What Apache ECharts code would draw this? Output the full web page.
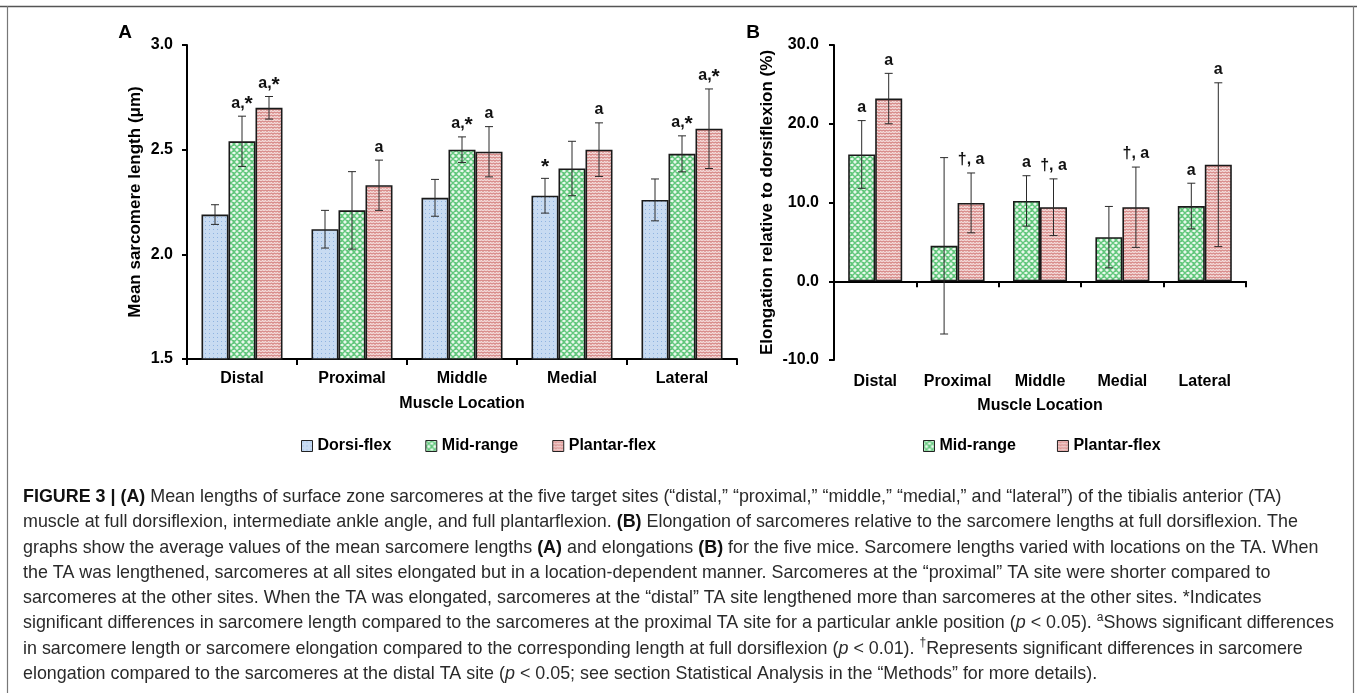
<!DOCTYPE html>
<html>
<head>
<meta charset="utf-8">
<script src="https://cdn.jsdelivr.net/npm/echarts@6/dist/echarts.min.js"></script>
<style>
html,body{margin:0;padding:0;background:#fff;}
#c{width:1357px;height:693px;}
</style>
</head>
<body>
<div id="c"></div>
<script>
// ---------------- DATA ----------------
const categories = ['Distal', 'Proximal', 'Middle', 'Medial', 'Lateral'];

// Panel A: mean sarcomere length (µm)
const yTicksA = [1.5, 2.0, 2.5, 3.0];
const dorsiA      = [2.19, 2.12, 2.27, 2.28, 2.26];
const dorsiAErr   = [0.047, 0.09, 0.088, 0.083, 0.10];
const midA        = [2.54, 2.21, 2.50, 2.41, 2.48];
const midAErr     = [0.12, 0.185, 0.061, 0.13, 0.086];
const plantarA    = [2.70, 2.33, 2.49, 2.50, 2.60];
const plantarAErr = [0.054, 0.12, 0.12, 0.128, 0.19];
const dorsiALabels   = ['', '', '', '*', ''];
const midALabels     = ['a,*', '', 'a,*', '', 'a,*'];
const plantarALabels = ['a,*', 'a', 'a', 'a', 'a,*'];

// Panel B: elongation relative to dorsiflexion (%)
const yTicksB = [-10, 0, 10, 20, 30];
const midB        = [16.1, 4.5, 10.2, 5.6, 9.55];
const midBErr     = [4.3, 11.2, 3.2, 3.9, 2.9];
const plantarB    = [23.2, 9.95, 9.4, 9.4, 14.8];
const plantarBErr = [3.2, 3.8, 3.6, 5.1, 10.4];
const midBLabels     = ['a', '', 'a', '', 'a'];
const plantarBLabels = ['a', '†, a', '†, a', '†, a', 'a'];

const seriesNamesA = ['Dorsi-flex', 'Mid-range', 'Plantar-flex'];
const seriesNamesB = ['Mid-range', 'Plantar-flex'];

const captionLines = [
  '{b|FIGURE 3 | (A)}{n| Mean lengths of surface zone sarcomeres at the five target sites (“distal,” “proximal,” “middle,” “medial,” and “lateral”) of the tibialis anterior (TA)}',
  '{n|muscle at full dorsiflexion, intermediate ankle angle, and full plantarflexion. }{b|(B)}{n| Elongation of sarcomeres relative to the sarcomere lengths at full dorsiflexion. The}',
  '{n|graphs show the average values of the mean sarcomere lengths }{b|(A)}{n| and elongations }{b|(B)}{n| for the five mice. Sarcomere lengths varied with locations on the TA. When}',
  '{n|the TA was lengthened, sarcomeres at all sites elongated but in a location-dependent manner. Sarcomeres at the “proximal” TA site were shorter compared to}',
  '{n|sarcomeres at the other sites. When the TA was elongated, sarcomeres at the “distal” TA site lengthened more than sarcomeres at the other sites. *Indicates}',
  '{n|significant differences in sarcomere length compared to the sarcomeres at the proximal TA site for a particular ankle position (}{i|p}{n| < 0.05). }{s|a}{n|Shows significant differences}',
  '{n|in sarcomere length or sarcomere elongation compared to the corresponding length at full dorsiflexion (}{i|p}{n| < 0.01). }{s|†}{n|Represents significant differences in sarcomere}',
  '{n|elongation compared to the sarcomeres at the distal TA site (}{i|p}{n| < 0.05; see section Statistical Analysis in the “Methods” for more details).}'
];

// ---------------- PATTERNS ----------------
function tile(w, h, draw) {
  const c = document.createElement('canvas');
  c.width = w; c.height = h;
  const ctx = c.getContext('2d');
  draw(ctx);
  return { image: c, repeat: 'repeat' };
}
const blueFill = tile(4, 4, ctx => {
  ctx.fillStyle = '#c8dbf2'; ctx.fillRect(0, 0, 4, 4);
  ctx.fillStyle = '#8fb3e0'; ctx.fillRect(1, 1, 1, 1);
});
const greenFill = tile(6, 6, ctx => {
  ctx.fillStyle = '#e8f8ec'; ctx.fillRect(0, 0, 6, 6);
  ctx.strokeStyle = '#62c77c'; ctx.lineWidth = 1.4;
  ctx.beginPath();
  ctx.moveTo(-1, -1); ctx.lineTo(7, 7);
  ctx.moveTo(-1, 7); ctx.lineTo(7, -1);
  ctx.moveTo(2, -1); ctx.lineTo(-1, 2);
  ctx.moveTo(4, -1); ctx.lineTo(7, 2);
  ctx.moveTo(-1, 4); ctx.lineTo(2, 7);
  ctx.moveTo(7, 4); ctx.lineTo(4, 7);
  ctx.stroke();
});
const redFill = tile(6, 3, ctx => {
  ctx.fillStyle = '#f5dcdb'; ctx.fillRect(0, 0, 6, 3);
  ctx.strokeStyle = '#c8605e'; ctx.lineWidth = 1;
  ctx.beginPath();
  ctx.moveTo(0, 2.5); ctx.lineTo(1.5, 0.8); ctx.lineTo(3, 2.5); ctx.lineTo(4.5, 0.8); ctx.lineTo(6, 2.5);
  ctx.stroke();
});

// ---------------- HELPERS ----------------
const FONT = 'Liberation Sans, Arial, sans-serif';
const BAR_W = 27;
const barStyle = fill => ({ color: fill, borderColor: '#1a1a1a', borderWidth: 1.6 });

function barSeries(name, xi, yi, data, fill) {
  return {
    type: 'bar', name, xAxisIndex: xi, yAxisIndex: yi, data,
    barWidth: BAR_W, barGap: '0%', itemStyle: barStyle(fill),
    emphasis: { disabled: true }, animation: false, z: 2
  };
}
function errSeries(id, xi, yi, vals, errs, labels, offset) {
  return {
    type: 'custom', name: id, xAxisIndex: xi, yAxisIndex: yi,
    data: vals.map((v, i) => [i, v, errs[i]]),
    animation: false, silent: true, z: 5, clip: false,
    renderItem(params, api) {
      const i = api.value(0), v = api.value(1), e = api.value(2);
      const top = api.coord([i, v + e]);
      const bot = api.coord([i, v - e]);
      const x = top[0] + offset;
      const ls = { stroke: '#2a2a2a', lineWidth: 1 };
      const children = [
        { type: 'line', shape: { x1: x, y1: top[1], x2: x, y2: bot[1] }, style: ls },
        { type: 'line', shape: { x1: x - 4, y1: top[1], x2: x + 4, y2: top[1] }, style: ls },
        { type: 'line', shape: { x1: x - 4, y1: bot[1], x2: x + 4, y2: bot[1] }, style: ls }
      ];
      const lab = labels[params.dataIndex];
      if (lab) {
        const rt = lab.replace(/\*/g, '{st|*}').replace(/([^{}|*]+)(?![^{]*\})/g, '{t|$1}');
        children.push({
          type: 'text', x: x, y: top[1] - 5,
          style: {
            text: rt, fill: '#111', font: 'bold 16px ' + FONT, align: 'center', verticalAlign: 'bottom',
            rich: {
              t: { fontFamily: FONT, fontWeight: 'bold', fontSize: 16, fill: '#111', lineHeight: 20, verticalAlign: 'bottom' },
              st: { fontFamily: FONT, fontWeight: 'bold', fontSize: 21, fill: '#111', lineHeight: 20, verticalAlign: 'bottom', padding: [0, 0, -4, 0] }
            }
          }
        });
      }
      return { type: 'group', children };
    }
  };
}

const axisTxt = { color: '#000', fontFamily: FONT, fontWeight: 'bold', fontSize: 16 };
const blackLine = { show: true, lineStyle: { color: '#000', width: 2 } };

// ---------------- OPTION ----------------
const option = {
  animation: false,
  backgroundColor: '#fff',
  grid: [
    { left: 187, top: 45, width: 550, height: 314, outerBoundsMode: 'none', containLabel: false },
    { left: 834, top: 45, width: 412, height: 315, outerBoundsMode: 'none', containLabel: false }
  ],
  xAxis: [
    { gridIndex: 0, type: 'category', data: categories, position: 'bottom',
      axisLine: blackLine, axisTick: { show: true, length: 6, lineStyle: { color: '#000', width: 2 } },
      axisLabel: Object.assign({ margin: 12, interval: 0 }, axisTxt),
      name: 'Muscle Location', nameLocation: 'middle', nameGap: 37,
      nameTextStyle: Object.assign({}, axisTxt) },
    { gridIndex: 1, type: 'category', data: categories, position: 'bottom',
      axisLine: { show: true, onZero: true, lineStyle: { color: '#000', width: 2 } },
      axisTick: { show: true, length: 6, lineStyle: { color: '#000', width: 2 } },
      axisLabel: { show: false } },
    { gridIndex: 1, type: 'category', data: categories, position: 'bottom',
      axisLine: { show: false, onZero: false }, axisTick: { show: false },
      axisLabel: Object.assign({ margin: 14, interval: 0, hideOverlap: false }, axisTxt),
      name: 'Muscle Location', nameLocation: 'middle', nameGap: 38,
      nameTextStyle: Object.assign({}, axisTxt) }
  ],
  yAxis: [
    { gridIndex: 0, type: 'value', min: yTicksA[0], max: yTicksA[yTicksA.length - 1],
      interval: yTicksA[1] - yTicksA[0],
      axisLine: blackLine, axisTick: { show: true, length: 5, lineStyle: { color: '#000', width: 2 } },
      splitLine: { show: false },
      axisLabel: Object.assign({ margin: 14, formatter: v => v.toFixed(1) }, axisTxt),
      name: 'Mean sarcomere length (μm)', nameLocation: 'middle', nameGap: 43,
      nameTextStyle: Object.assign({}, axisTxt, { fontSize: 17 }) },
    { gridIndex: 1, type: 'value', min: yTicksB[0], max: yTicksB[yTicksB.length - 1],
      interval: yTicksB[1] - yTicksB[0],
      axisLine: blackLine, axisTick: { show: true, length: 5, lineStyle: { color: '#000', width: 2 } },
      splitLine: { show: false },
      axisLabel: Object.assign({ margin: 15, formatter: v => v.toFixed(1) }, axisTxt),
      name: 'Elongation relative to dorsiflexion (%)', nameLocation: 'middle', nameGap: 58,
      nameTextStyle: Object.assign({}, axisTxt, { fontSize: 17 }) }
  ],
  legend: [
    { data: seriesNamesA, left: 296, top: 433, itemWidth: 11, itemHeight: 11, itemGap: 34,
      icon: 'rect', selectedMode: false,
      itemStyle: { borderColor: '#222', borderWidth: 1 },
      textStyle: Object.assign({}, axisTxt) },
    { data: seriesNamesB, left: 918, top: 433, itemWidth: 11, itemHeight: 11, itemGap: 41,
      icon: 'rect', selectedMode: false,
      itemStyle: { borderColor: '#222', borderWidth: 1 },
      textStyle: Object.assign({}, axisTxt) }
  ],
  series: [
    barSeries(seriesNamesA[0], 0, 0, dorsiA, blueFill),
    barSeries(seriesNamesA[1], 0, 0, midA, greenFill),
    barSeries(seriesNamesA[2], 0, 0, plantarA, redFill),
    errSeries('eA0', 0, 0, dorsiA, dorsiAErr, dorsiALabels, -BAR_W),
    errSeries('eA1', 0, 0, midA, midAErr, midALabels, 0),
    errSeries('eA2', 0, 0, plantarA, plantarAErr, plantarALabels, BAR_W),
    barSeries(seriesNamesB[0], 1, 1, midB, greenFill),
    barSeries(seriesNamesB[1], 1, 1, plantarB, redFill),
    errSeries('eB0', 1, 1, midB, midBErr, midBLabels, -BAR_W / 2),
    errSeries('eB1', 1, 1, plantarB, plantarBErr, plantarBLabels, BAR_W / 2)
  ],
  graphic: []
};

// frame
option.graphic.push(
  { type: 'line', shape: { x1: 0, y1: 6.5, x2: 1357, y2: 6.5 }, style: { stroke: '#555', lineWidth: 1.5 }, silent: true },
  { type: 'line', shape: { x1: 7.5, y1: 6, x2: 7.5, y2: 693 }, style: { stroke: '#777', lineWidth: 1.2 }, silent: true },
  { type: 'line', shape: { x1: 1353.5, y1: 6, x2: 1353.5, y2: 693 }, style: { stroke: '#777', lineWidth: 1.2 }, silent: true },
  { type: 'text', x: 125, y: 33, style: { text: 'A', font: 'bold 19px ' + FONT, fill: '#000', align: 'center', verticalAlign: 'middle' }, silent: true },
  { type: 'text', x: 753, y: 33, style: { text: 'B', font: 'bold 19px ' + FONT, fill: '#000', align: 'center', verticalAlign: 'middle' }, silent: true }
);

// caption
const CAP_SIZE = 17.9;
const capBase = { fontFamily: FONT, fontSize: CAP_SIZE, fill: '#2a2a2a', lineHeight: 24 };
const capRich = {
  n: Object.assign({}, capBase),
  b: Object.assign({}, capBase, { fontWeight: 'bold', fill: '#111' }),
  i: Object.assign({}, capBase, { fontStyle: 'italic' }),
  s: Object.assign({}, capBase, { fontSize: 12, verticalAlign: 'top', lineHeight: 24 })
};
captionLines.forEach((ln, k) => {
  option.graphic.push({
    type: 'text', x: 23, y: 497 + k * 25.3, silent: true,
    style: { text: ln, rich: capRich, fontFamily: FONT, fontSize: CAP_SIZE, fill: '#2a2a2a', verticalAlign: 'middle', align: 'left' }
  });
});

const chart = echarts.init(document.getElementById('c'), null, { renderer: 'canvas' });
chart.setOption(option);
</script>
</body>
</html>
